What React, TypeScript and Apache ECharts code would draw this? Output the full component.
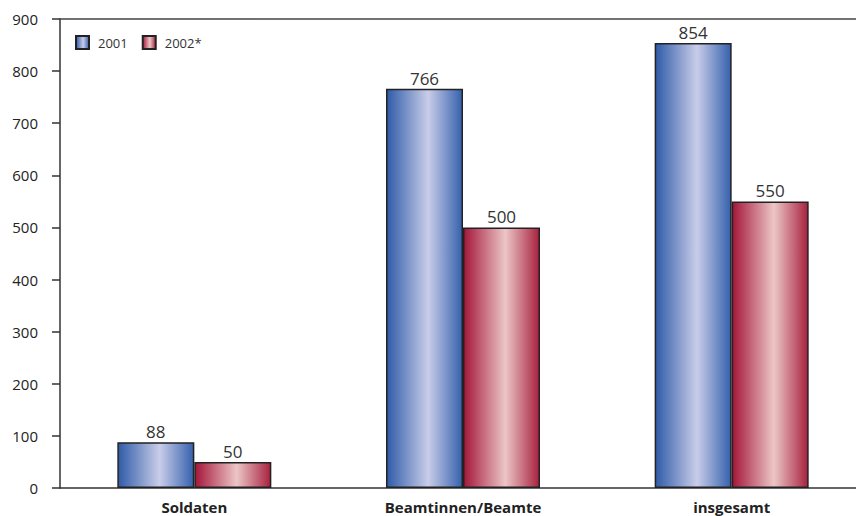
import React, { useEffect, useRef } from "react";
import * as echarts from "echarts";

const categories = ["Soldaten", "Beamtinnen/Beamte", "insgesamt"];
const series2001 = [88, 766, 854];
const series2002 = [50, 500, 550];
const seriesNames = ["2001", "2002*"];

const FONT = "'Open Sans', 'Noto Sans', sans-serif";

function grad(edge: string, mid: string, edge2: string) {
  return new echarts.graphic.LinearGradient(0, 0, 1, 0, [
    { offset: 0, color: edge },
    { offset: 0.55, color: mid },
    { offset: 1, color: edge2 },
  ]);
}

export default function App() {
  const ref = useRef<HTMLDivElement>(null);
  useEffect(() => {
    if (!ref.current) return;
    const chart = echarts.init(ref.current, undefined, { renderer: "svg" });
    const blue = grad("#2f5ba8", "#c9cde9", "#3561ad");
    const red = grad("#a4163a", "#ecc6c6", "#a8213f");
    const labelStyle = {
      show: true,
      position: "top" as const,
      distance: 2,
      fontFamily: FONT,
      fontSize: 17,
      color: "#333",
    };
    chart.setOption({
      animation: false,
      backgroundColor: "#ffffff",
      grid: { left: 60, top: 19, bottom: 28, right: 0, containLabel: false },
      legend: {
        left: 75,
        top: 35,
        padding: 0,
        icon: "rect",
        itemWidth: 13,
        itemHeight: 13,
        itemGap: 14,
        textStyle: {
          fontFamily: FONT,
          fontSize: 13,
          color: "#333",
          padding: [0, 0, 0, 4],
        },
        data: seriesNames,
      },
      xAxis: [
        {
          type: "category",
          data: categories,
          axisLine: { lineStyle: { color: "#333", width: 1.5 } },
          axisTick: { show: false },
          axisLabel: {
            margin: 11,
            fontFamily: FONT,
            fontSize: 15,
            fontWeight: "bold",
            color: "#222",
          },
        },
        {
          type: "category",
          position: "top",
          data: categories,
          axisLine: { show: true, lineStyle: { color: "#444", width: 1.5 } },
          axisTick: { show: false },
          axisLabel: { show: false },
        },
      ],
      yAxis: {
        type: "value",
        min: 0,
        max: 900,
        interval: 100,
        axisLine: { show: true, lineStyle: { color: "#333", width: 1.5 } },
        axisTick: { show: true, length: 8, lineStyle: { color: "#333", width: 1.5 } },
        splitLine: { show: false },
        axisLabel: {
          margin: 22,
          fontFamily: FONT,
          fontSize: 15,
          color: "#222",
        },
      },
      series: [
        {
          name: seriesNames[0],
          type: "bar",
          data: series2001,
          barWidth: 77,
          barGap: "0%",
          itemStyle: { color: blue, borderColor: "#222", borderWidth: 1.5 },
          label: labelStyle,
        },
        {
          name: seriesNames[1],
          type: "bar",
          data: series2002,
          barWidth: 77,
          barGap: "0%",
          itemStyle: { color: red, borderColor: "#222", borderWidth: 1.5 },
          label: labelStyle,
        },
      ],
    });
    return () => chart.dispose();
  }, []);
  return (
    <div
      style={{
        position: "fixed",
        left: 0,
        top: 0,
        width: 856,
        height: 516,
        overflow: "hidden",
      }}
    >
      <div ref={ref} style={{ width: 866, height: 516 }} />
    </div>
  );
}
